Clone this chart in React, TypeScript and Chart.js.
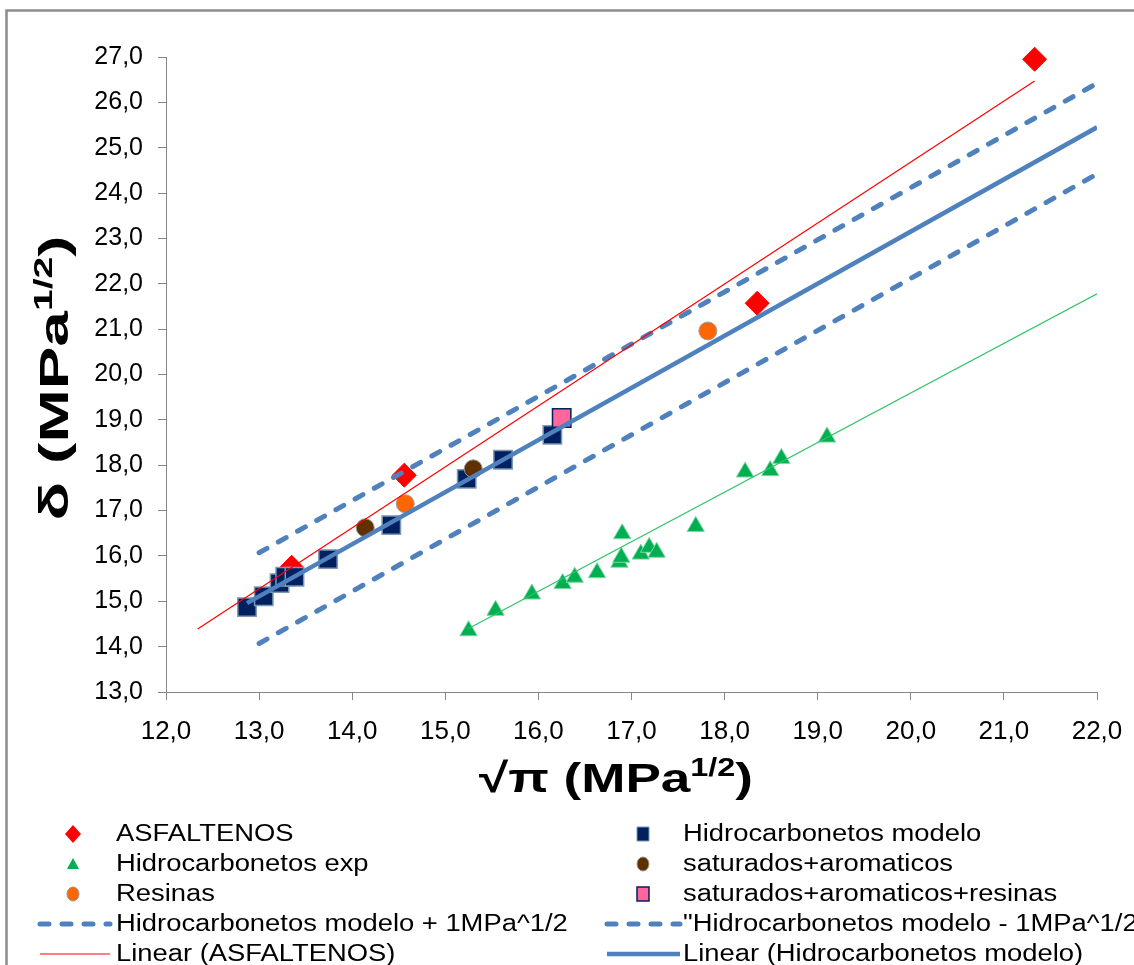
import React, { useEffect, useRef } from "react";
import { Chart, registerables } from "chart.js";

Chart.register(...registerables);

// ---- Data ----
const asfaltenosX = [13.35, 14.56, 18.35, 21.33];
const asfaltenosY = [15.75, 17.78, 21.57, 26.95];

const hcModeloX = [12.87, 13.05, 13.22, 13.28, 13.38, 13.74, 14.42, 15.23, 15.62, 16.15];
const hcModeloY = [14.87, 15.11, 15.40, 15.54, 15.54, 15.93, 16.68, 17.70, 18.12, 18.67];

const hcExpX = [15.25, 15.54, 15.93, 16.26, 16.39, 16.63, 16.87, 16.89, 16.9, 17.1, 17.19, 17.27, 17.69, 18.22, 18.49, 18.61, 19.1];
const hcExpY = [14.35, 14.8, 15.16, 15.39, 15.53, 15.63, 15.86, 15.97, 16.49, 16.04, 16.19, 16.08, 16.65, 17.85, 17.88, 18.15, 18.62];

const satAromX = [14.14, 15.3];
const satAromY = [16.62, 17.92];

const resinasX = [14.57, 17.82];
const resinasY = [17.15, 20.96];

const satAromResX = [16.25];
const satAromResY = [19.04];

const upperX = [13.0, 22.0];
const upperY = [16.07, 26.42];
const lowerX = [13.0, 22.0];
const lowerY = [14.07, 24.42];

const trendAsfX = [12.34, 21.33];
const trendAsfY = [14.39, 26.47];
const trendModeloX = [12.87, 22.0];
const trendModeloY = [14.96, 25.45];
const trendExpX = [15.25, 22.0];
const trendExpY = [14.4, 21.78];

const xTickLabels = ["12,0", "13,0", "14,0", "15,0", "16,0", "17,0", "18,0", "19,0", "20,0", "21,0", "22,0"];
const yTickLabels = ["13,0", "14,0", "15,0", "16,0", "17,0", "18,0", "19,0", "20,0", "21,0", "22,0", "23,0", "24,0", "25,0", "26,0", "27,0"];

const seriesLabels = [
  "ASFALTENOS",
  "Hidrocarbonetos modelo",
  "Hidrocarbonetos exp",
  "saturados+aromaticos",
  "Resinas",
  "saturados+aromaticos+resinas",
  "Hidrocarbonetos modelo + 1MPa^1/2",
  "\"Hidrocarbonetos modelo - 1MPa^1/2",
  "Linear (ASFALTENOS)",
  "Linear (Hidrocarbonetos modelo)",
];

const FONT = '"Liberation Sans", Arial, sans-serif';
const BLUE = "#4f81bd";
const NAVY = "#002060";
const NAVY_BORDER = "#7b98b5";
const GREEN = "#00b050";
const GREEN_LINE = "#2fc466";
const BROWN = "#603000";
const ORANGE = "#ff6600";
const PINK = "#ff6699";
const RED = "#ff0000";
const AXIS = "#868686";

const pts = (xs: number[], ys: number[]) => xs.map((x, i) => ({ x, y: ys[i] }));

function drawRich(ctx: CanvasRenderingContext2D, parts: { text: string; font: string; dy?: number }[], cx: number, cy: number, targetW: number, rot: number) {
  ctx.save();
  let w = 0;
  const widths: number[] = [];
  parts.forEach((p) => {
    ctx.font = p.font;
    const pw = ctx.measureText(p.text).width;
    widths.push(pw);
    w += pw;
  });
  const sx = targetW / w;
  ctx.translate(cx, cy);
  if (rot) ctx.rotate(rot);
  ctx.scale(sx, 1);
  ctx.fillStyle = "#000";
  ctx.textBaseline = "alphabetic";
  ctx.textAlign = "left";
  let x = -w / 2;
  parts.forEach((p, i) => {
    ctx.font = p.font;
    ctx.fillText(p.text, x, p.dy || 0);
    x += widths[i];
  });
  ctx.restore();
}

function drawMarker(ctx: CanvasRenderingContext2D, kind: string, x: number, y: number) {
  ctx.save();
  ctx.beginPath();
  if (kind === "diamond") {
    ctx.moveTo(x, y - 9);
    ctx.lineTo(x + 8, y);
    ctx.lineTo(x, y + 9);
    ctx.lineTo(x - 8, y);
    ctx.closePath();
    ctx.fillStyle = RED;
    ctx.fill();
  } else if (kind === "square") {
    ctx.rect(x - 6, y - 7, 12, 14);
    ctx.fillStyle = NAVY;
    ctx.fill();
    ctx.strokeStyle = NAVY_BORDER;
    ctx.lineWidth = 1;
    ctx.stroke();
  } else if (kind === "pink") {
    ctx.rect(x - 6, y - 7, 12, 14);
    ctx.fillStyle = PINK;
    ctx.fill();
    ctx.strokeStyle = NAVY;
    ctx.lineWidth = 1.5;
    ctx.stroke();
  } else if (kind === "triangle") {
    ctx.moveTo(x, y - 6);
    ctx.lineTo(x + 6, y + 5);
    ctx.lineTo(x - 6, y + 5);
    ctx.closePath();
    ctx.fillStyle = GREEN;
    ctx.fill();
  } else if (kind === "brown" || kind === "orange") {
    ctx.ellipse(x, y, 6, 7, 0, 0, Math.PI * 2);
    ctx.fillStyle = kind === "brown" ? BROWN : ORANGE;
    ctx.fill();
    ctx.strokeStyle = "#8a9a9a";
    ctx.lineWidth = 1;
    ctx.stroke();
  }
  ctx.restore();
}

function drawSample(ctx: CanvasRenderingContext2D, kind: string, x1: number, x2: number, y: number) {
  ctx.save();
  ctx.beginPath();
  ctx.moveTo(x1, y);
  ctx.lineTo(x2, y);
  if (kind === "dash") {
    ctx.strokeStyle = BLUE;
    ctx.lineWidth = 5;
    ctx.lineCap = "round";
    ctx.setLineDash([9, 13]);
  } else if (kind === "red") {
    ctx.strokeStyle = RED;
    ctx.lineWidth = 1.2;
  } else {
    ctx.strokeStyle = BLUE;
    ctx.lineWidth = 4.5;
  }
  ctx.stroke();
  ctx.restore();
}

const legendItems = [
  { label: seriesLabels[0], kind: "diamond", col: 0, row: 0 },
  { label: seriesLabels[1], kind: "square", col: 1, row: 0 },
  { label: seriesLabels[2], kind: "triangle", col: 0, row: 1 },
  { label: seriesLabels[3], kind: "brown", col: 1, row: 1 },
  { label: seriesLabels[4], kind: "orange", col: 0, row: 2 },
  { label: seriesLabels[5], kind: "pink", col: 1, row: 2 },
  { label: seriesLabels[6], kind: "dash", col: 0, row: 3 },
  { label: seriesLabels[7], kind: "dash", col: 1, row: 3 },
  { label: seriesLabels[8], kind: "red", col: 0, row: 4 },
  { label: seriesLabels[9], kind: "blue", col: 1, row: 4 },
];

const decorPlugin = {
  id: "decor",
  beforeDraw(chart: any) {
    const ctx: CanvasRenderingContext2D = chart.ctx;
    ctx.save();
    ctx.fillStyle = "#fff";
    ctx.fillRect(0, 0, chart.width, chart.height);
    ctx.strokeStyle = "#8c8c8c";
    ctx.lineWidth = 2.5;
    ctx.strokeRect(6.5, 10.5, 1400, 1400);
    ctx.restore();
  },
  afterDraw(chart: any) {
    const ctx: CanvasRenderingContext2D = chart.ctx;
    // axis titles
    drawRich(
      ctx,
      [
        { text: "\u221A\u03C0 (MPa", font: `bold 41px ${FONT}` },
        { text: "1/2", font: `bold 25px ${FONT}`, dy: -16 },
        { text: ")", font: `bold 41px ${FONT}` },
      ],
      616,
      792,
      274,
      0
    );
    drawRich(
      ctx,
      [
        { text: "\u03B4 (MPa", font: `bold 41px ${FONT}` },
        { text: "1/2", font: `bold 25px ${FONT}`, dy: -16 },
        { text: ")", font: `bold 41px ${FONT}` },
      ],
      68,
      378,
      285,
      -Math.PI / 2
    );
    // legend
    const rowY = [834, 864, 894, 924, 954];
    const colMarker = [73, 643];
    const colLine = [[40, 110], [607, 680]];
    const colText = [116, 683];
    legendItems.forEach((it) => {
      const y = rowY[it.row];
      if (it.kind === "dash" || it.kind === "red" || it.kind === "blue") {
        drawSample(ctx, it.kind, colLine[it.col][0], colLine[it.col][1], y);
      } else {
        drawMarker(ctx, it.kind, colMarker[it.col], y);
      }
      ctx.save();
      ctx.font = `23px ${FONT}`;
      ctx.fillStyle = "#000";
      ctx.textBaseline = "middle";
      ctx.textAlign = "left";
      ctx.translate(colText[it.col], y + 1);
      ctx.scale(1.19, 1);
      ctx.fillText(it.label, 0, 0);
      ctx.restore();
    });
  },
};

export default function App() {
  const ref = useRef<HTMLCanvasElement>(null);
  useEffect(() => {
    const canvas = ref.current;
    if (!canvas) return;
    const chart = new Chart(canvas, {
      type: "scatter",
      data: {
        datasets: [
          {
            label: seriesLabels[6],
            data: pts(upperX, upperY),
            showLine: true,
            pointRadius: 0,
            borderColor: BLUE,
            borderWidth: 5,
            borderDash: [9, 13],
            borderCapStyle: "round",
            order: 1,
          },
          {
            label: seriesLabels[7],
            data: pts(lowerX, lowerY),
            showLine: true,
            pointRadius: 0,
            borderColor: BLUE,
            borderWidth: 5,
            borderDash: [9, 13],
            borderCapStyle: "round",
            order: 1,
          },
          {
            label: seriesLabels[8],
            data: pts(trendAsfX, trendAsfY),
            showLine: true,
            pointRadius: 0,
            borderColor: RED,
            borderWidth: 1.2,
            order: 0,
          },
          {
            label: seriesLabels[9],
            data: pts(trendModeloX, trendModeloY),
            showLine: true,
            pointRadius: 0,
            borderColor: BLUE,
            borderWidth: 4.5,
            order: 0,
          },
          {
            label: "Linear (Hidrocarbonetos exp)",
            data: pts(trendExpX, trendExpY),
            showLine: true,
            pointRadius: 0,
            borderColor: GREEN_LINE,
            borderWidth: 1.2,
            order: 0,
          },
          {
            label: seriesLabels[0],
            data: pts(asfaltenosX, asfaltenosY),
            pointStyle: "rectRot",
            pointRadius: 12,
            backgroundColor: RED,
            borderColor: RED,
            borderWidth: 1,
            clip: false,
            order: 5,
          },
          {
            label: seriesLabels[1],
            data: pts(hcModeloX, hcModeloY),
            pointStyle: "rect",
            pointRadius: 13,
            backgroundColor: NAVY,
            borderColor: NAVY_BORDER,
            borderWidth: 1.5,
            clip: false,
            order: 4,
          },
          {
            label: seriesLabels[2],
            data: pts(hcExpX, hcExpY),
            pointStyle: "triangle",
            pointRadius: 10,
            backgroundColor: GREEN,
            borderColor: "#7fd7a8",
            borderWidth: 1,
            clip: false,
            order: 4,
          },
          {
            label: seriesLabels[3],
            data: pts(satAromX, satAromY),
            pointStyle: "circle",
            pointRadius: 9,
            backgroundColor: BROWN,
            borderColor: "#8a9a9a",
            borderWidth: 1,
            clip: false,
            order: 3,
          },
          {
            label: seriesLabels[4],
            data: pts(resinasX, resinasY),
            pointStyle: "circle",
            pointRadius: 9,
            backgroundColor: ORANGE,
            borderColor: "#a0a0a0",
            borderWidth: 1,
            clip: false,
            order: 3,
          },
          {
            label: seriesLabels[5],
            data: pts(satAromResX, satAromResY),
            pointStyle: "rect",
            pointRadius: 13,
            backgroundColor: PINK,
            borderColor: NAVY,
            borderWidth: 1.5,
            clip: false,
            order: 2,
          },
        ],
      },
      options: {
        responsive: false,
        animation: false,
        layout: { padding: { left: 0, top: 57, right: 37, bottom: 173 } },
        plugins: {
          legend: { display: false },
          tooltip: { enabled: false },
        },
        scales: {
          x: {
            type: "linear",
            position: "bottom",
            min: 12,
            max: 22,
            afterFit: (s: any) => {
              s.height = 100;
              s.paddingRight = 0;
              s.paddingLeft = 0;
            },
            ticks: {
              stepSize: 1,
              autoSkip: false,
              maxRotation: 0,
              padding: 16,
              color: "#000",
              font: { family: FONT, size: 26 },
              callback: (_v: any, i: number) => xTickLabels[i],
            },
            grid: { drawOnChartArea: false, drawTicks: true, tickLength: 8, color: AXIS, lineWidth: 1 },
            border: { display: true, color: AXIS, width: 1 },
          },
          y: {
            type: "linear",
            position: "left",
            min: 13,
            max: 27,
            afterFit: (s: any) => {
              s.width = 166;
            },
            ticks: {
              stepSize: 1,
              autoSkip: false,
              padding: 15,
              color: "#000",
              font: { family: FONT, size: 25 },
              callback: (_v: any, i: number) => yTickLabels[i],
            },
            grid: { drawOnChartArea: false, drawTicks: true, tickLength: 8, color: AXIS, lineWidth: 1 },
            border: { display: true, color: AXIS, width: 1 },
          },
        },
      },
      plugins: [decorPlugin],
    } as any);
    return () => chart.destroy();
  }, []);
  return (
    <div style={{ position: "fixed", left: 0, top: 0, width: 1134, height: 965, background: "#fff" }}>
      <canvas ref={ref} width={1134} height={965} style={{ display: "block", width: 1134, height: 965 }} />
    </div>
  );
}
